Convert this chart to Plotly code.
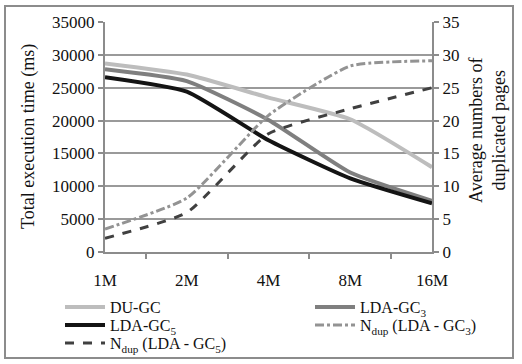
import plotly.graph_objects as go

categories = ["1M", "2M", "4M", "8M", "16M"]
du_gc = [28700, 27000, 23500, 20200, 12900]
lda_gc3 = [27800, 26000, 20100, 12100, 7800]
lda_gc5 = [26600, 24400, 17000, 11200, 7400]
ndup_gc3 = [3.5, 8.2, 20.8, 28.3, 29.1]
ndup_gc5 = [2.1, 6.0, 18.0, 21.8, 25.0]

left_ticks = [0, 5000, 10000, 15000, 20000, 25000, 30000, 35000]
right_ticks = [0, 5, 10, 15, 20, 25, 30, 35]

left_title = "Total execution time (ms)"
right_title = "Average numbers of<br>duplicated pages"

FS = 17
W, H = 522, 364
L, R, T, B = 105, 90, 22, 112
PW, PH = W - L - R, H - T - B
font = dict(family="Liberation Serif", size=FS, color="#111111")
fig = go.Figure()

sm = 0.5
fig.add_trace(go.Scatter(x=categories, y=du_gc, name="DU-GC", mode="lines", legend="legend6",
                         line=dict(color="#bdbdbd", width=4, shape="spline", smoothing=sm)))
fig.add_trace(go.Scatter(x=categories, y=lda_gc3, name="LDA-GC<sub>3</sub>", mode="lines", legend="legend2",
                         line=dict(color="#7f7f7f", width=4, shape="spline", smoothing=sm)))
fig.add_trace(go.Scatter(x=categories, y=lda_gc5, name="LDA-GC<sub>5</sub>", mode="lines", legend="legend3",
                         line=dict(color="#141414", width=4, shape="spline", smoothing=sm)))
fig.add_trace(go.Scatter(x=categories, y=ndup_gc3, name="N<sub>dup</sub> (LDA - GC<sub>3</sub>)", mode="lines",
                         yaxis="y2", legend="legend4",
                         line=dict(color="#939393", width=3, dash="dashdot", shape="spline", smoothing=sm)))
fig.add_trace(go.Scatter(x=categories, y=ndup_gc5, name="N<sub>dup</sub> (LDA - GC<sub>5</sub>)", mode="lines",
                         yaxis="y2", legend="legend5",
                         line=dict(color="#404040", width=3, dash="dash", shape="spline", smoothing=sm)))

axcol = "#8c8c8c"


def leg(px, py):
    return dict(orientation="v", xref="container", yref="container",
                x=px / W, y=1 - py / H, xanchor="left", yanchor="middle",
                font=dict(size=FS - 1), itemwidth=40, bgcolor="rgba(0,0,0,0)",
                tracegroupgap=0)


fig.update_layout(
    width=W, height=H,
    margin=dict(l=L, r=R, t=T, b=B, autoexpand=False),
    paper_bgcolor="white", plot_bgcolor="white",
    font=font,
    xaxis=dict(type="category", tickson="boundaries", ticks="outside", ticklen=5,
               tickcolor=axcol, tickwidth=2, showline=True, linecolor=axcol, linewidth=2,
               showgrid=False, ticklabelstandoff=12, tickfont=dict(size=FS)),
    yaxis=dict(range=[0, 35000], tickvals=left_ticks, tickformat="d", ticks="outside", ticklen=5,
               tickcolor=axcol, tickwidth=2, showline=True, linecolor=axcol, linewidth=2,
               gridcolor="#9a9a9a", gridwidth=1.5, zeroline=False,
               tickfont=dict(size=FS)),
    yaxis2=dict(range=[0, 35], tickvals=right_ticks, overlaying="y", side="right",
                ticks="outside", ticklen=5, tickcolor=axcol, tickwidth=2,
                showline=True, linecolor=axcol, linewidth=2, showgrid=False, zeroline=False,
                tickfont=dict(size=FS)),
    legend6=leg(60, 307),
    legend2=leg(310, 307),
    legend3=leg(60, 325),
    legend4=leg(310, 325),
    legend5=leg(60, 343),
)

fig.add_annotation(text=left_title, xref="paper", yref="paper", x=(28 - L) / PW, y=0.5,
                   textangle=-90, showarrow=False, font=dict(size=FS + 1), xanchor="center", yanchor="middle")
fig.add_annotation(text=right_title, xref="paper", yref="paper", x=(487 - L) / PW, y=(H - B - 130) / PH,
                   textangle=-90, showarrow=False, font=dict(size=FS + 1), xanchor="center", yanchor="middle")

fig.add_shape(type="rect", xref="paper", yref="paper",
              x0=(5 - L) / PW, x1=(513 - L) / PW, y0=-(358 - (H - B)) / PH, y1=((H - B) - 6) / PH,
              line=dict(color="#8c8c8c", width=2), fillcolor="rgba(0,0,0,0)", layer="below")

fig.write_html("out.html", config={"displayModeBar": False},
               post_script="document.body.style.margin='0';document.body.style.overflow='hidden';")
